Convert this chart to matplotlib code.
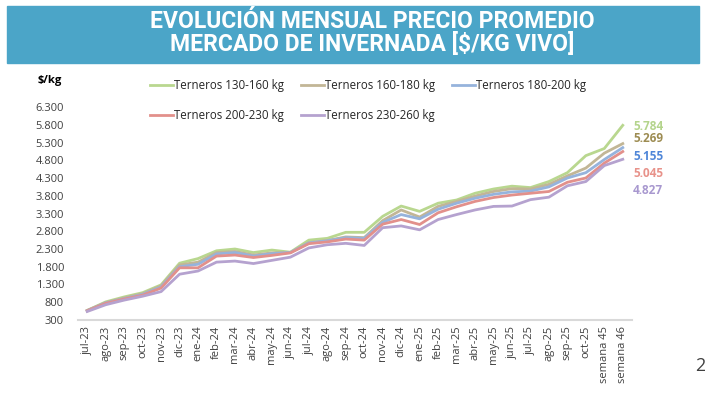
import matplotlib
matplotlib.use('Agg')
import matplotlib.pyplot as plt
from matplotlib.patches import Rectangle

meses = ["jul-23", "ago-23", "sep-23", "oct-23", "nov-23", "dic-23",
         "ene-24", "feb-24", "mar-24", "abr-24", "may-24", "jun-24",
         "jul-24", "ago-24", "sep-24", "oct-24", "nov-24", "dic-24",
         "ene-25", "feb-25", "mar-25", "abr-25", "may-25", "jun-25",
         "jul-25", "ago-25", "sep-25", "oct-25", "semana 45", "semana 46"]

t_130_160 = [570, 810, 950, 1070, 1290, 1900, 2030, 2250, 2300, 2200,
             2270, 2210, 2550, 2600, 2770, 2770, 3220, 3510, 3360, 3590,
             3680, 3870, 3990, 4070, 4030, 4200, 4450, 4930, 5130, 5784]
t_160_180 = [570, 790, 920, 1040, 1260, 1850, 1930, 2200, 2230, 2130,
             2190, 2200, 2480, 2540, 2640, 2620, 3100, 3400, 3200, 3500,
             3640, 3790, 3920, 4000, 3990, 4120, 4360, 4580, 5000, 5269]
t_180_200 = [560, 780, 900, 1020, 1230, 1800, 1870, 2160, 2200, 2100,
             2170, 2200, 2470, 2530, 2620, 2600, 3050, 3270, 3150, 3420,
             3590, 3730, 3840, 3910, 3930, 4050, 4300, 4450, 4820, 5155]
t_200_230 = [560, 770, 890, 1000, 1200, 1770, 1770, 2100, 2130, 2060,
             2120, 2190, 2450, 2500, 2580, 2550, 3000, 3130, 2990, 3320,
             3490, 3640, 3750, 3820, 3870, 3920, 4180, 4300, 4720, 5045]
t_230_260 = [540, 730, 860, 970, 1100, 1590, 1680, 1930, 1960, 1890,
             1980, 2070, 2330, 2420, 2460, 2400, 2900, 2950, 2840, 3130,
             3270, 3400, 3500, 3510, 3690, 3760, 4080, 4200, 4650, 4827]

series = [t_130_160, t_160_180, t_180_200, t_200_230, t_230_260]
nombres = ["Terneros 130-160 kg", "Terneros 160-180 kg", "Terneros 180-200 kg",
           "Terneros 200-230 kg", "Terneros 230-260 kg"]
colores = ["#b9d78f", "#c2b696", "#96b3dc", "#e2908b", "#b5a2cf"]
colores_txt = ["#b4d48c", "#9d8c52", "#4f86d8", "#e8928a", "#a898cf"]
yticks = list(range(300, 6301, 500))
titulo = "EVOLUCIÓN MENSUAL PRECIO PROMEDIO\nMERCADO DE INVERNADA [\\$/KG VIVO]"

W, H = 705, 394
plt.rcParams['font.family'] = ['Open Sans', 'DejaVu Sans']
fig = plt.figure(figsize=(W / 100, H / 100), dpi=100)

# banner del titulo
fig.patches.append(Rectangle((7 / W, 1 - 63 / H), 692 / W, 57 / H,
                             transform=fig.transFigure, color="#4ba5c8", zorder=0))
# va=baseline toma la ultima linea
fig.text(372 / W, 1 - 51 / H, titulo, color="white", fontsize=16.5,
         fontweight="bold", ha="center", va="baseline", multialignment="center",
         linespacing=0.95, family=['Roboto', 'DejaVu Sans'])

ax = fig.add_axes([78 / W, 1 - 320 / H, 554 / W, 213 / H])
x = list(range(len(meses)))
handles = []
for s, n, c in zip(series, nombres, colores):
    h, = ax.plot(x, s, color=c, lw=2.0, label=n, solid_joinstyle='round')
    handles.append(h)

ax.set_xlim(-0.5, len(meses) - 0.5)
ax.set_ylim(300, 6300)
ax.set_yticks(yticks)
ax.set_yticklabels([f"{v:,}".replace(",", ".") for v in yticks])
ax.set_xticks(x)
ax.set_xticklabels(meses, rotation=90)
ax.tick_params(length=0, labelsize=8, colors="#404040", pad=4)
ax.tick_params(axis='y', pad=10)
for sp in ["top", "right", "left"]:
    ax.spines[sp].set_visible(False)
ax.spines["bottom"].set_color("#d9d9d9")
ax.spines["bottom"].set_linewidth(1.5)

fig.text(38 / W, 1 - 80 / H, r"\$/kg", fontsize=8, fontweight="bold", va="center")

orden = [0, 3, 1, 4, 2]
fig.legend([handles[i] for i in orden], [nombres[i] for i in orden], ncol=3,
           loc="upper left", bbox_to_anchor=(150 / W, 1 - 79 / H), frameon=False,
           fontsize=8.3, handlelength=2.0, handletextpad=0.1, columnspacing=1.45,
           labelspacing=1.45, borderpad=0, borderaxespad=0, labelcolor="#262626")

# valores finales
ys_lbl = [127, 139, 156, 173, 190]
for s, c, yy in zip(series, colores_txt, ys_lbl):
    fig.text(633 / W, 1 - yy / H, f"{s[-1]:,}".replace(",", "."), color=c,
             fontsize=8.5, fontweight="bold", va="center")

fig.text(695 / W, 1 - 366 / H, "2", fontsize=13, color="#404040", va="center")

fig.savefig("out.png", dpi=100)
